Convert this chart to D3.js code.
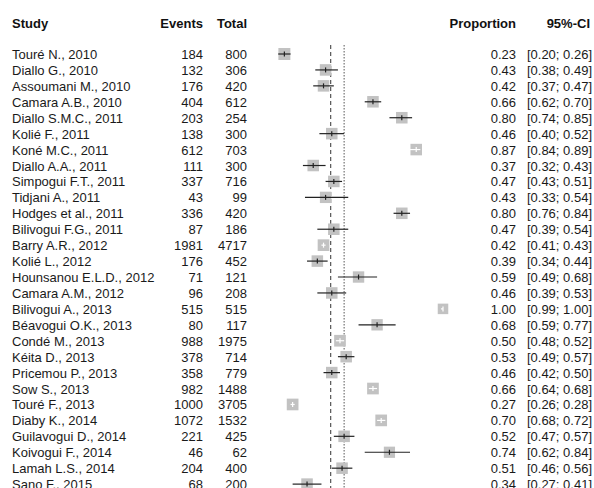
<!DOCTYPE html>
<html>
<head>
<meta charset="utf-8">
<script src="https://cdn.jsdelivr.net/npm/d3@7/dist/d3.min.js"></script>
<style>
  html, body { margin: 0; padding: 0; background: #fff; }
  svg { display: block; font-family: Arial, "Liberation Sans", sans-serif; }
</style>
</head>
<body>
<svg id="chart" width="594" height="488"></svg>
<script>
// Study-level data for the forest plot
const studies = [
  "Touré N., 2010", "Diallo G., 2010", "Assoumani M., 2010", "Camara A.B., 2010",
  "Diallo S.M.C., 2011", "Kolié F., 2011", "Koné M.C., 2011", "Diallo A.A., 2011",
  "Simpogui F.T., 2011", "Tidjani A., 2011", "Hodges et al., 2011", "Bilivogui F.G., 2011",
  "Barry A.R., 2012", "Kolié L., 2012", "Hounsanou E.L.D., 2012", "Camara A.M., 2012",
  "Bilivogui A., 2013", "Béavogui O.K., 2013", "Condé M., 2013", "Kéita D., 2013",
  "Pricemou P., 2013", "Sow S., 2013", "Touré F., 2013", "Diaby K., 2014",
  "Guilavogui D., 2014", "Koivogui F., 2014", "Lamah L.S., 2014", "Sano F., 2015"
];
const events = [184, 132, 176, 404, 203, 138, 612, 111, 337, 43, 336, 87, 1981, 176,
  71, 96, 515, 80, 988, 378, 358, 982, 1000, 1072, 221, 46, 204, 68];
const totals = [800, 306, 420, 612, 254, 300, 703, 300, 716, 99, 420, 186, 4717, 452,
  121, 208, 515, 117, 1975, 714, 779, 1488, 3705, 1532, 425, 62, 400, 200];
const proportion = [0.23, 0.43, 0.42, 0.66, 0.80, 0.46, 0.87, 0.37, 0.47, 0.43, 0.80, 0.47,
  0.42, 0.39, 0.59, 0.46, 1.00, 0.68, 0.50, 0.53, 0.46, 0.66, 0.27, 0.70, 0.52, 0.74, 0.51, 0.34];
const ciLower = [0.20, 0.38, 0.37, 0.62, 0.74, 0.40, 0.84, 0.32, 0.43, 0.33, 0.76, 0.39,
  0.41, 0.34, 0.49, 0.39, 0.99, 0.59, 0.48, 0.49, 0.42, 0.64, 0.26, 0.68, 0.47, 0.62, 0.46, 0.27];
const ciUpper = [0.26, 0.49, 0.47, 0.70, 0.85, 0.52, 0.89, 0.43, 0.51, 0.54, 0.84, 0.54,
  0.43, 0.44, 0.68, 0.53, 1.00, 0.77, 0.52, 0.57, 0.50, 0.68, 0.28, 0.72, 0.57, 0.84, 0.56, 0.41];
// Study weights (%) setting the square areas
const weights = [3.9, 3.6, 3.6, 3.6, 3.6, 3.6, 3.6, 3.6, 3.6, 3.5, 3.6, 3.6,
  3.7, 3.6, 3.5, 3.6, 3.0, 3.5, 3.7, 3.6, 3.6, 3.7, 3.7, 3.7, 3.6, 3.4, 3.6, 3.6];
// Pooled estimates (fixed effect, random effects)
const pooled = { fixed: 0.455, random: 0.52 };

const headers = { study: "Study", events: "Events", total: "Total", prop: "Proportion", ci: "95%-CI" };

const svg = d3.select("#chart");
const fmt = d3.format(".2f");

const xCol = { study: 12, events: 203, total: 247, prop: 516, ci: 592, ciHead: 590 };
const plot = { left: 237, right: 443 };
const rowTop = 54, rowStep = 15.93;

const x = d3.scaleLinear().domain([0, 1]).range([plot.left, plot.right]);
const y = d3.scaleLinear().domain([0, studies.length - 1])
  .range([rowTop, rowTop + rowStep * (studies.length - 1)]);
const side = d3.scaleSqrt().domain([0, d3.max(weights)]).range([0, 12]);

const rows = d3.range(studies.length);

// Column headers
const head = svg.append("g").attr("font-weight", "bold").attr("font-size", 13).attr("fill", "#111");
head.append("text").attr("x", xCol.study).attr("y", 28).text(headers.study);
head.append("text").attr("x", xCol.events).attr("y", 28).attr("text-anchor", "end").text(headers.events);
head.append("text").attr("x", xCol.total).attr("y", 28).attr("text-anchor", "end").text(headers.total);
head.append("text").attr("x", xCol.prop).attr("y", 28).attr("text-anchor", "end").text(headers.prop);
head.append("text").attr("x", xCol.ciHead).attr("y", 28).attr("text-anchor", "end").text(headers.ci);

// Pooled-estimate reference lines
svg.append("line")
  .attr("x1", x(pooled.fixed)).attr("x2", x(pooled.fixed))
  .attr("y1", 45).attr("y2", 488)
  .attr("stroke", "#333").attr("stroke-width", 1).attr("stroke-dasharray", "4,3");
svg.append("line")
  .attr("x1", x(pooled.random)).attr("x2", x(pooled.random))
  .attr("y1", 45).attr("y2", 488)
  .attr("stroke", "#555").attr("stroke-width", 1).attr("stroke-dasharray", "1.5,1.5");

// Text columns
const txt = svg.append("g").attr("font-size", 13).attr("fill", "#1a1a1a");
const textRow = (col, anchor, accessor) => txt.append("g").selectAll("text")
  .data(rows).join("text")
  .attr("x", col).attr("y", i => y(i) + 5)
  .attr("text-anchor", anchor)
  .text(accessor);
textRow(xCol.study, "start", i => studies[i]);
textRow(xCol.events, "end", i => events[i]);
textRow(xCol.total, "end", i => totals[i]);
textRow(xCol.prop, "end", i => fmt(proportion[i]));
textRow(xCol.ci, "end", i => `[${fmt(ciLower[i])}; ${fmt(ciUpper[i])}]`);

// Squares, confidence intervals and estimate ticks
const marks = svg.append("g").selectAll("g").data(rows).join("g");
marks.append("rect")
  .attr("x", i => x(proportion[i]) - side(weights[i]) / 2)
  .attr("y", i => y(i) - side(weights[i]) / 2)
  .attr("width", i => side(weights[i]))
  .attr("height", i => side(weights[i]))
  .attr("fill", "#c2c2c2");
const inside = i => (x(ciUpper[i]) - x(ciLower[i])) < side(weights[i]);
marks.append("line")
  .attr("x1", i => x(ciLower[i])).attr("x2", i => x(ciUpper[i]))
  .attr("y1", i => y(i)).attr("y2", i => y(i))
  .attr("stroke", i => inside(i) ? "#fff" : "#222").attr("stroke-width", 1.2);
marks.append("line")
  .attr("x1", i => x(proportion[i])).attr("x2", i => x(proportion[i]))
  .attr("y1", i => y(i) - 2.5).attr("y2", i => y(i) + 2.5)
  .attr("stroke", i => inside(i) ? "#fff" : "#222").attr("stroke-width", 1.2);
</script>
</body>
</html>
